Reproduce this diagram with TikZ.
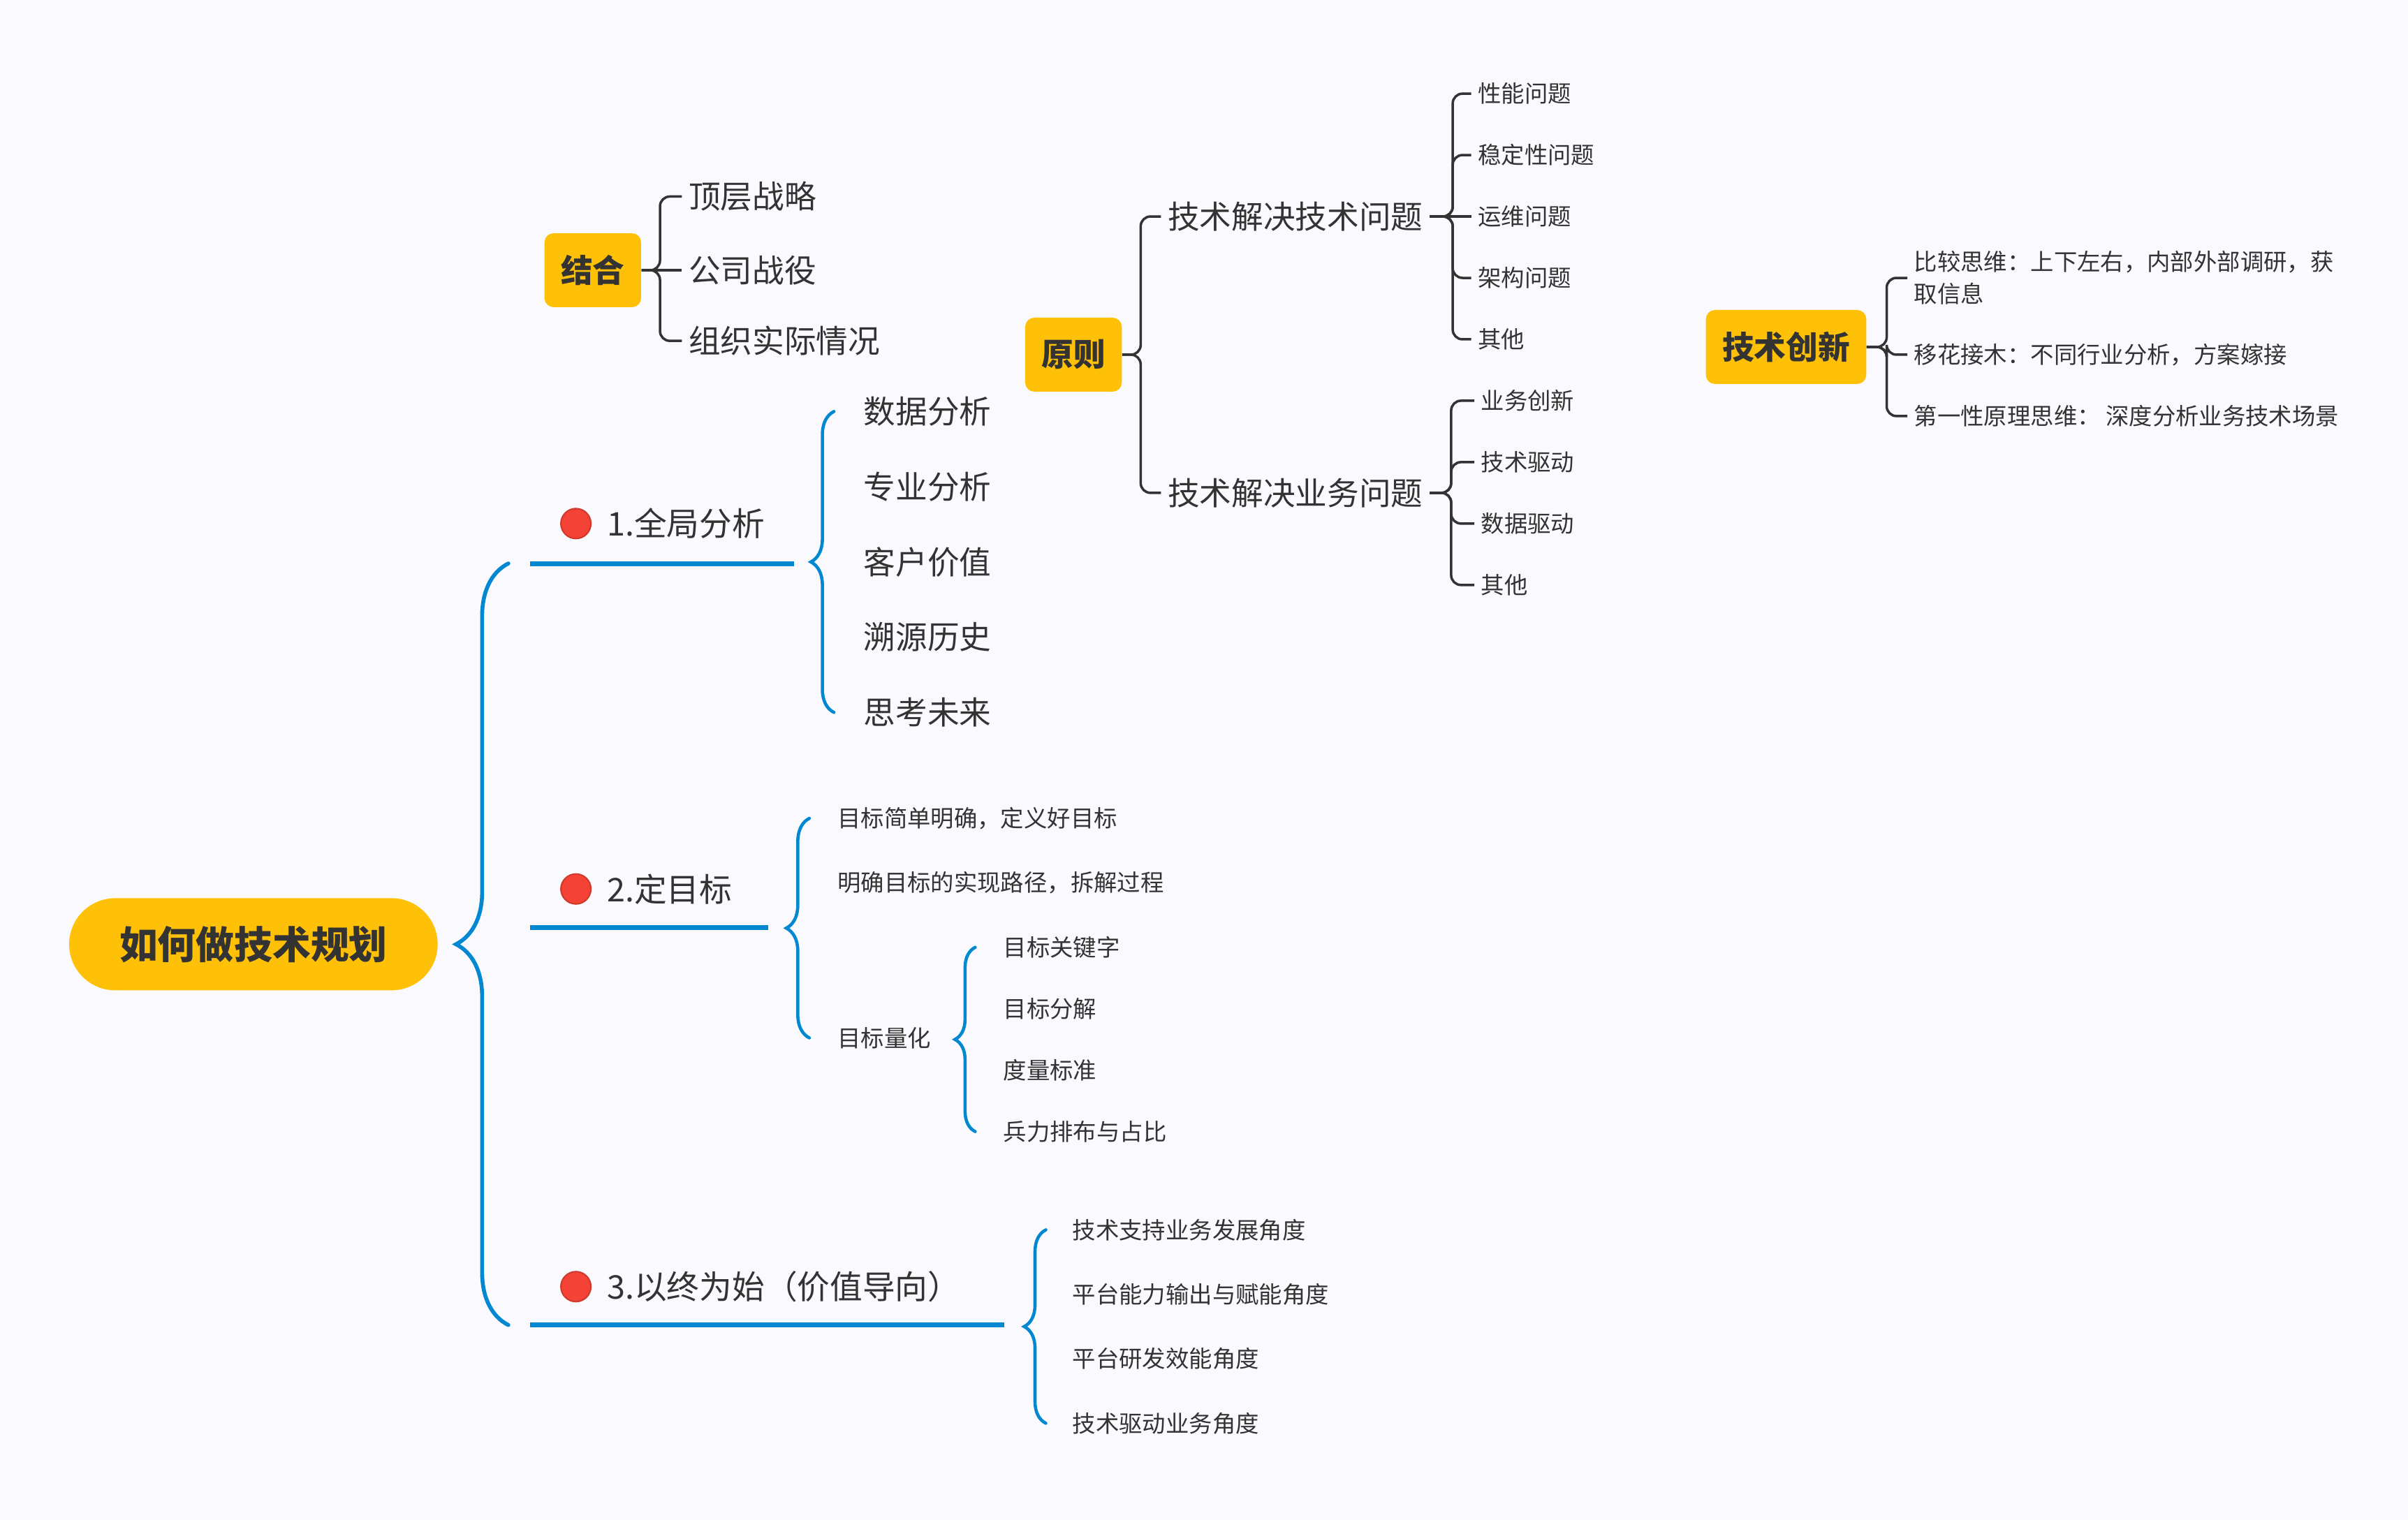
\documentclass[tikz,border=0pt]{standalone}
\usepackage{fontspec}
\setmainfont{Noto Sans CJK SC}
\usetikzlibrary{decorations.pathreplacing}
\definecolor{amber}{RGB}{255,193,7}
\definecolor{mapblue}{RGB}{2,136,209}
\definecolor{ink}{RGB}{51,51,51}
\definecolor{dotred}{RGB}{244,67,54}
\definecolor{paper}{RGB}{250,250,254}
\tikzset{
  topic/.style={fill=amber,text=ink,rounded corners=0.13cm,minimum height=1.06cm,inner xsep=0.235cm,font=\fontsize{13}{15}\selectfont\bfseries},
  big/.style={text=ink,anchor=west,inner xsep=0.09cm,font=\fontsize{13}{15}\selectfont},
  small/.style={text=ink,anchor=west,inner xsep=0.09cm,font=\fontsize{9.5}{13}\selectfont},
  lvl/.style={text=ink,anchor=west,inner sep=0pt,font=\fontsize{13.3}{15}\selectfont},
  dot/.style={circle,fill=dotred,draw=dotred!85!black,line width=0.6pt,minimum size=0.43cm,inner sep=0pt},
  link/.style={ink,line width=1pt,rounded corners=0.14cm},
  brc/.style={mapblue,line width=#1,line cap=round,decorate},
  uline/.style={mapblue,line width=2pt}
}
\begin{document}
\begin{tikzpicture}[x=0.022cm,y=-0.022cm]
\fill[paper] (0,0) rectangle (1568,990);
% root and its three branches
\node[fill=amber,text=ink,rounded corners=0.66cm,minimum width=5.28cm,minimum height=1.32cm,font=\fontsize{15.6}{18}\selectfont\bfseries] (root) at (165,615) {如何做技术规划};
\coordinate (rb) at (331,615);
\coordinate (u1a) at (345,367); \coordinate (u1b) at (517,367);
\coordinate (u2a) at (345,604); \coordinate (u2b) at (500,604);
\coordinate (u3a) at (345,863); \coordinate (u3b) at (654,863);
\draw[brc=1.6pt,decoration={brace,amplitude=0.75cm}] (rb |- u3a) -- (rb |- u1a);
\foreach \i in {1,2,3} \draw[uline] (u\i a) -- (u\i b);
\node[dot] (d1) at (375,341) {}; \node[lvl] (br1) at (395,341) {1.全局分析};
\node[dot] (d2) at (375,579) {}; \node[lvl] (br2) at (395,579) {2.定目标};
\node[dot] (d3) at (375,838) {}; \node[lvl] (br3) at (395,838) {3.以终为始（价值导向）};
% 1.全局分析
\foreach \t [count=\i] in {数据分析,专业分析,客户价值,溯源历史,思考未来}
  \node[big] (c1\i) at (558,219+49*\i) {\t};
\coordinate (k1) at (543,366);
\draw[brc=1.3pt,decoration={brace,amplitude=0.33cm}] (k1 |- c15.west) -- (k1 |- c11.west);
% 2.定目标
\node[small] (c21) at (541,533) {目标简单明确，定义好目标};
\node[small] (c22) at (541,575) {明确目标的实现路径，拆解过程};
\node[small] (c23) at (541,676) {目标量化};
\coordinate (k2) at (527,604);
\draw[brc=1.3pt,decoration={brace,amplitude=0.33cm}] (k2 |- c23.west) -- (k2 |- c21.west);
\foreach \t [count=\i] in {目标关键字,目标分解,度量标准,兵力排布与占比}
  \node[small] (g\i) at (649,577+40*\i) {\t};
\coordinate (k3) at (635,676);
\draw[brc=1.3pt,decoration={brace,amplitude=0.29cm}] (k3 |- g4.west) -- (k3 |- g1.west);
% 3.以终为始
\foreach \t [count=\i] in {技术支持业务发展角度,平台能力输出与赋能角度,平台研发效能角度,技术驱动业务角度}
  \node[small] (e\i) at (694,759+42*\i) {\t};
\coordinate (k4) at (681,863);
\draw[brc=1.3pt,decoration={brace,amplitude=0.31cm}] (k4 |- e4.west) -- (k4 |- e1.west);
% 结合
\node[topic] (jh) at (386,176) {结合};
\node[big] (j1) at (444,128) {顶层战略};
\node[big] (j2) at (444,176) {公司战役};
\node[big] (j3) at (444,222) {组织实际情况};
\draw[link] (jh.east) -- (j2.west);
\foreach \i in {1,3} \draw[link] (jh.east) -- ++(12,0) |- (j\i.west);
% 原则
\node[topic] (yz) at (699,231) {原则};
\node[big] (tq1) at (756,141) {技术解决技术问题};
\node[big] (tq2) at (756,321) {技术解决业务问题};
\foreach \i in {1,2} \draw[link] (yz.east) -- ++(12,0) |- (tq\i.west);
\foreach \t [count=\i] in {性能问题,稳定性问题,运维问题,架构问题,其他}
  \node[small] (t\i) at (958,21+40*\i) {\t};
\draw[link] (tq1.east) -- (t3.west);
\foreach \i in {1,2,4,5} \draw[link] (tq1.east) -- ++(15,0) |- (t\i.west);
\foreach \t [count=\i] in {业务创新,技术驱动,数据驱动,其他}
  \node[small] (s\i) at (960,221+40*\i) {\t};
\foreach \i in {1,...,4} \draw[link] (tq2.east) -- ++(14,0) |- (s\i.west);
% 技术创新
\node[topic] (jc) at (1163,226) {技术创新};
\node[small,align=left] (n1) at (1242,181) {比较思维：上下左右，内部外部调研，获\\取信息};
\node[small] (n2) at (1242,231) {移花接木：不同行业分析，方案嫁接};
\node[small] (n3) at (1242,271) {第一性原理思维： 深度分析业务技术场景};
\foreach \i in {1,2,3} \draw[link] (jc.east) -- ++(13,0) |- (n\i.west);
\end{tikzpicture}
\end{document}
